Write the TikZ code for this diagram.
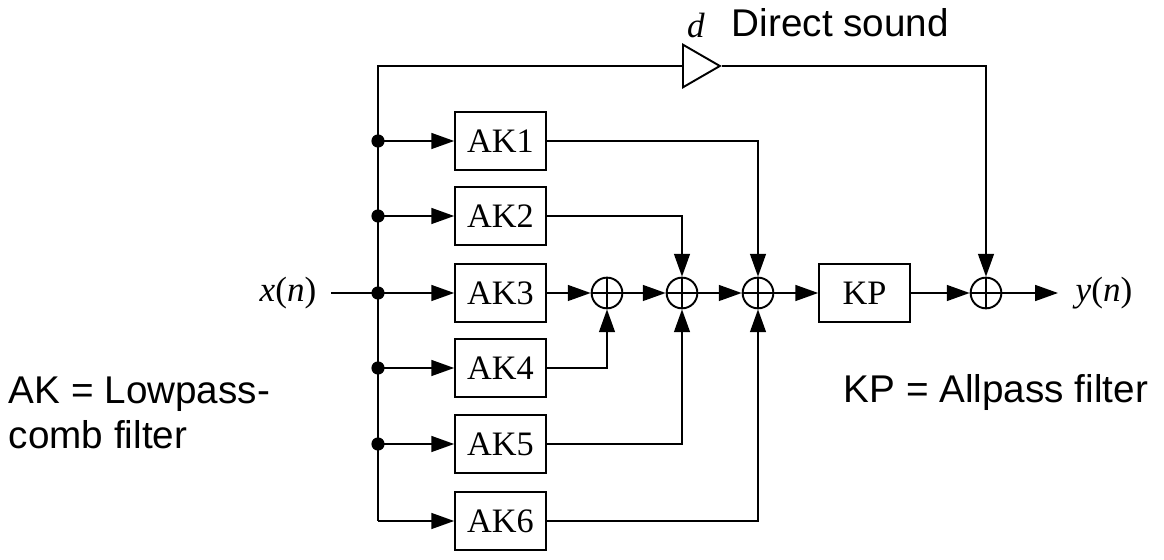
\documentclass[tikz,border=0pt]{standalone}
\usepackage{fontspec}
\setmainfont{Liberation Serif}
\newfontfamily\notefont{Liberation Sans}
\usetikzlibrary{arrows.meta,shapes.geometric}

\begin{document}
\begin{tikzpicture}[x=0.02cm,y=-0.02cm,line width=1.1pt,
  >={Triangle[length=13pt,width=9pt]},
  blk/.style={draw,minimum width=51.6pt,minimum height=33.4pt,inner sep=0pt,
    font=\fontsize{19.5}{21}\selectfont},
  sum/.style={draw,circle,minimum size=17.5pt,inner sep=0pt,
    path picture={\draw (path picture bounding box.north)--(path picture bounding box.south)
      (path picture bounding box.west)--(path picture bounding box.east);}},
  dot/.style={circle,fill,inner sep=0pt,minimum size=7.5pt},
  gain/.style={draw,isosceles triangle,isosceles triangle apex angle=60,
    minimum height=21pt,inner sep=0pt},
  sig/.style={font=\fontsize{20}{22}\selectfont},
  note/.style={font=\notefont\fontsize{22}{25.5}\selectfont,align=left,inner sep=0pt}]
  \useasboundingbox (0,0) rectangle (1164,560);

  % bus points
  \coordinate (t) at (378,66);
  \coordinate (b1) at (378,141);
  \coordinate (b2) at (378,216);
  \coordinate (b3) at (378,293);
  \coordinate (b4) at (378,368);
  \coordinate (b5) at (378,444);
  \coordinate (b6) at (378,521);

  % filters
  \node[blk] (ak1) at (500.5,141){AK1};
  \node[blk] (ak2) at (500.5,216){AK2};
  \node[blk] (ak3) at (500.5,293){AK3};
  \node[blk] (ak4) at (500.5,368){AK4};
  \node[blk] (ak5) at (500.5,444){AK5};
  \node[blk] (ak6) at (500.5,521){AK6};

  \node[sum] (s1) at (607,293){};
  \node[sum] (s2) at (682,293){};
  \node[sum] (s3) at (758,293){};
  \node[blk] (kp) at (864.5,293){KP};
  \node[sum] (s4) at (986,293){};
  \node[gain,anchor=west] (g) at (682,66){};

  \node[sig,inner sep=8pt] (xn) at (288,293){\textit{x}(\textit{n})};
  \node[sig] (yn) at (1104,293){\textit{y}(\textit{n})};
  \coordinate (out) at (1058,293);

  % input bus
  \draw (xn.east) -- (b3);
  \draw (b6) -- (t) -- (g.west);
  \foreach \i in {1,...,6}
    \draw[->] (b\i) -- (ak\i);
  \foreach \i in {1,...,5}
    \node[dot] at (b\i){};

  % summing chain
  \draw[->] (ak3) -- (s1);
  \draw[->] (s1) -- (s2);
  \draw[->] (s2) -- (s3);
  \draw[->] (s3) -- (kp);
  \draw[->] (kp) -- (s4);
  \draw[->] (s4) -- (out);
  \draw[->] (ak4.east) -| (s1);
  \draw[->] (ak2.east) -| (s2);
  \draw[->] (ak5.east) -| (s2);
  \draw[->] (ak1.east) -| (s3);
  \draw[->] (ak6.east) -| (s3);
  \draw[->] (g.apex) -| (s4);

  % labels
  \node[sig,anchor=base] at (696,38){\textit{d}};
  \node[note,anchor=base west] at (731,37){Direct sound};
  \node[note,anchor=north west] at (8,376){AK = Lowpass-\\comb filter};
  \node[note,anchor=base west] at (843,403){KP = Allpass filter};
\end{tikzpicture}
\end{document}
